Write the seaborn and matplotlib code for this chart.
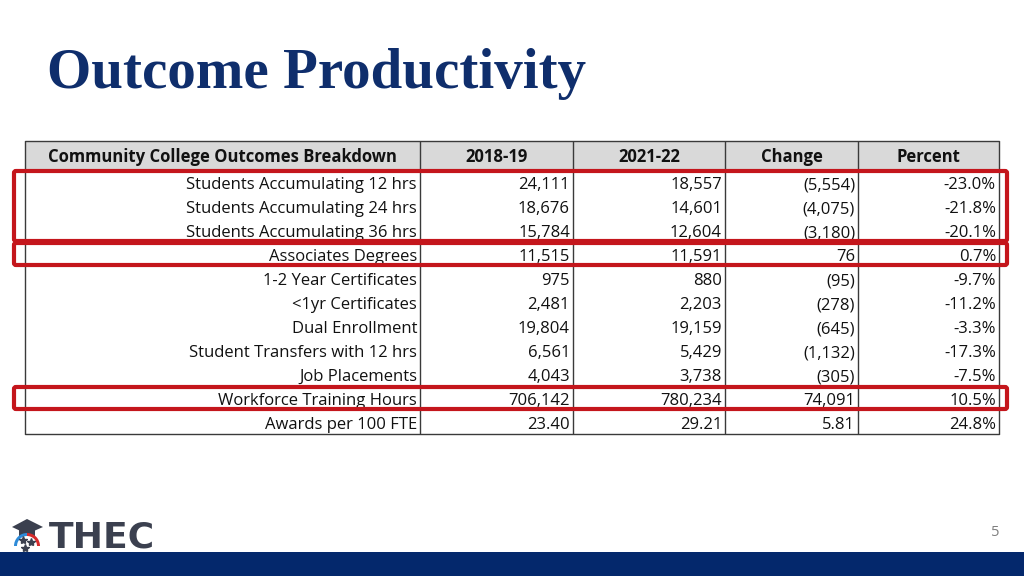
import matplotlib
matplotlib.use("Agg")
import matplotlib.pyplot as plt
from matplotlib.patches import Rectangle, FancyBboxPatch, Polygon, Wedge
import seaborn as sns

# ---------------- data ----------------
title = "Outcome Productivity"
headers = ["Community College Outcomes Breakdown", "2018-19", "2021-22", "Change", "Percent"]
categories = [
    "Students Accumulating 12 hrs",
    "Students Accumulating 24 hrs",
    "Students Accumulating 36 hrs",
    "Associates Degrees",
    "1-2 Year Certificates",
    "<1yr Certificates",
    "Dual Enrollment",
    "Student Transfers with 12 hrs",
    "Job Placements",
    "Workforce Training Hours",
    "Awards per 100 FTE",
]
values_2018 = [24111, 18676, 15784, 11515, 975, 2481, 19804, 6561, 4043, 706142, 23.40]
values_2021 = [18557, 14601, 12604, 11591, 880, 2203, 19159, 5429, 3738, 780234, 29.21]
change = [-5554, -4075, -3180, 76, -95, -278, -645, -1132, -305, 74091, 5.81]
percent = [-23.0, -21.8, -20.1, 0.7, -9.7, -11.2, -3.3, -17.3, -7.5, 10.5, 24.8]
decimal_rows = [10]
highlight_groups = [[0, 1, 2], [3], [9]]
page_number = "5"
logo_text = "THEC"

# ---------------- style ----------------
sns.set_theme(style="white")
plt.rcParams["font.family"] = ["Open Sans", "DejaVu Sans"]

W, H = 1024, 576
fig = plt.figure(figsize=(W / 100, H / 100), dpi=100)
ax = fig.add_axes([0, 0, 1, 1])
ax.set_xlim(0, W)
ax.set_ylim(H, 0)
ax.axis("off")

navy = "#0F2E6C"
line_c = "#3a3a3a"
red = "#C4161C"

# title
ax.text(47, 88, title, fontsize=41, fontweight="bold", color=navy,
        family=["Liberation Serif", "DejaVu Serif"], ha="left", va="baseline")

# table layout
col_edges = [25, 420, 573, 725, 858, 999]
head_top, head_bot = 141, 170
row_h = 24
n = len(categories)
table_bot = head_bot + n * row_h
fs = 12


def fmt(v, i):
    if i in decimal_rows:
        return f"{v:.2f}"
    if v < 0:
        return f"({abs(v):,.0f})"
    return f"{v:,.0f}"


# header background
ax.add_patch(Rectangle((col_edges[0], head_top), col_edges[-1] - col_edges[0],
                       head_bot - head_top, facecolor="#D9D9D9", edgecolor="none"))
for j, h in enumerate(headers):
    cx = (col_edges[j] + col_edges[j + 1]) / 2
    ax.text(cx, head_top + 21, h, fontsize=fs, fontweight="bold",
            color="#111111", ha="center", va="baseline")

# rows
for i, cat in enumerate(categories):
    base = head_bot + i * row_h + 19
    cells = [cat, fmt(values_2018[i], i), fmt(values_2021[i], i),
             fmt(change[i], i), f"{percent[i]:.1f}%"]
    for j, s in enumerate(cells):
        ax.text(col_edges[j + 1] - 3, base, s, fontsize=fs, color="#111111",
                ha="right", va="baseline")

# grid lines
lw = 1.0
for x in col_edges:
    ax.plot([x, x], [head_top, table_bot], color=line_c, lw=lw, solid_capstyle="butt")
for y in (head_top, head_bot, table_bot):
    ax.plot([col_edges[0], col_edges[-1]], [y, y], color=line_c, lw=lw)

# highlight boxes
box_l, box_r = 14, 1007
for grp in highlight_groups:
    y0 = head_bot + min(grp) * row_h + 1
    y1 = head_bot + (max(grp) + 1) * row_h - 1
    ax.add_patch(FancyBboxPatch((box_l, y0), box_r - box_l, y1 - y0,
                                boxstyle="round,pad=0,rounding_size=2",
                                facecolor="none", edgecolor=red, lw=3.0, zorder=5))

# bottom bar
ax.add_patch(Rectangle((0, 552), W, H - 552, facecolor="#04286C", edgecolor="none"))

# page number
ax.text(995, 533, page_number, fontsize=10.5, color="#7f7f7f", ha="center", va="center")

# logo
logo_c = "#3B404F"
ax.text(49, 547, logo_text, fontsize=26, fontweight="bold", color=logo_c,
        family=["DejaVu Sans"], ha="left", va="baseline")
# mortarboard
ax.add_patch(Polygon([(12, 527), (27, 519), (43, 527), (27, 534)], closed=True,
                     facecolor=logo_c, edgecolor="none"))
ax.add_patch(Polygon([(19, 530), (35, 530), (35, 536), (19, 536)], closed=True,
                     facecolor=logo_c, edgecolor="none"))
# arcs
ax.add_patch(Wedge((27, 546), 13, 180, 270, width=3, facecolor="#2E8BD8", edgecolor="none"))
ax.add_patch(Wedge((27, 546), 13, 270, 360, width=3, facecolor="#D52B2B", edgecolor="none"))
for (sx, sy) in [(23, 540), (31, 542), (25, 548)]:
    ax.plot(sx, sy, marker="*", color=logo_c, markersize=6)

fig.savefig("out.png", dpi=100)
